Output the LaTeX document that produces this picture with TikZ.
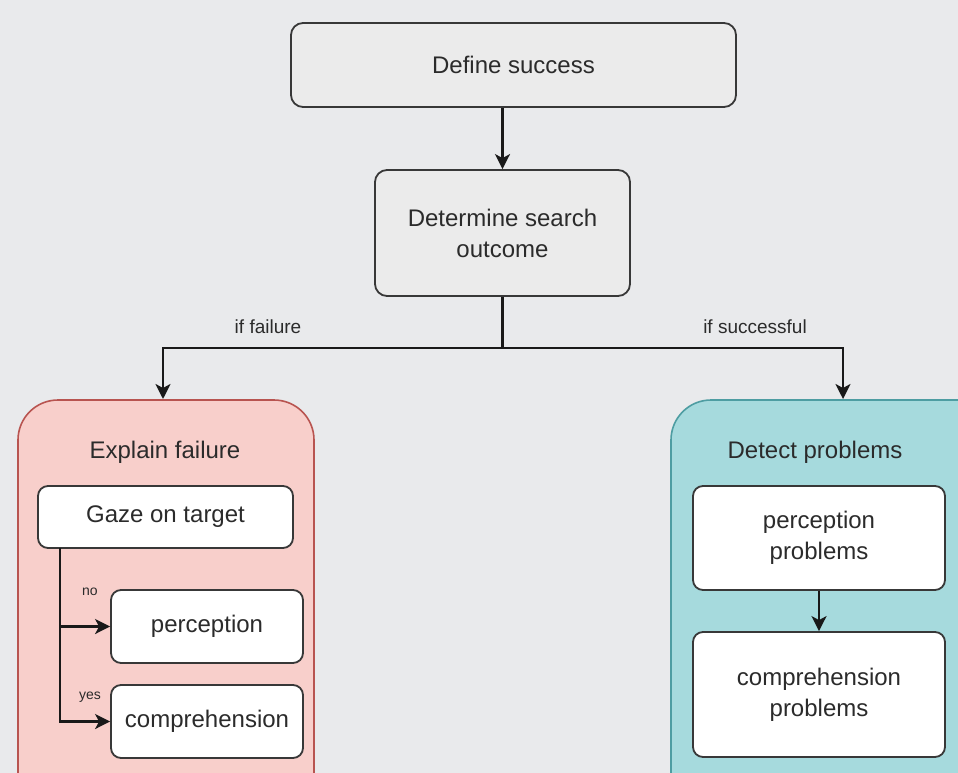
\documentclass[tikz,border=0pt]{standalone}
\usepackage{fontspec}
\setmainfont{Liberation Sans}
\usetikzlibrary{arrows.meta,positioning}
\definecolor{bg}{HTML}{E9EAEC}
\definecolor{boxfill}{HTML}{EBEBEB}
\definecolor{boxline}{HTML}{383838}
\definecolor{txt}{HTML}{2B2B2B}
\definecolor{pinkfill}{HTML}{F8CFCB}
\definecolor{pinkline}{HTML}{B85450}
\definecolor{tealfill}{HTML}{A6DADD}
\definecolor{tealline}{HTML}{4E9DA2}
\tikzset{
  x=1pt,y=-1pt,
  topbox/.style={draw=boxline,line width=1.8pt,fill=boxfill,rounded corners=12pt,text=txt,align=center,font=\fontsize{24}{31}\selectfont},
  whitebox/.style={draw=boxline,line width=1.8pt,fill=white,rounded corners=10pt,text=txt,align=center,font=\fontsize{24}{31}\selectfont},
  conn/.style={line width=2.4pt,black!90,-{Stealth[length=15pt,width=15pt,inset=4pt]}},
  plain/.style={line width=2.4pt,black!90},
  lbl/.style={text=txt,font=\fontsize{19}{22}\selectfont},
  small/.style={text=txt,font=\fontsize{14}{16}\selectfont},
  title/.style={text=txt,font=\fontsize{24}{28}\selectfont}
}
\begin{document}
\begin{tikzpicture}
\useasboundingbox (0,0) rectangle (958,773);
\clip (0,0) rectangle (958,773);
\fill[bg] (0,0) rectangle (958,773);

% containers
\draw[fill=pinkfill,draw=pinkline,line width=1.6pt,rounded corners=40pt] (18,400) rectangle (314,820);
\draw[fill=tealfill,draw=tealline,line width=1.6pt,rounded corners=40pt] (671,400) rectangle (1000,820);

% top boxes
\node[topbox,minimum width=445pt,minimum height=84pt] (def) at (513.5,65) {Define success};
\node[topbox,minimum width=255pt,minimum height=126pt] (det) at (502.5,233) {Determine search\\outcome};

\coordinate (split) at (502.5,348);
\coordinate (lt) at (163,348);
\coordinate (rt) at (843,348);
\coordinate (lend) at (163,399);
\coordinate (rend) at (843,399);

\draw[conn] (def.south -| det.north) -- (det.north);
\draw[plain] (det.south) -- (split);
\draw[conn] (split) -- (lt) -- (lend);
\draw[conn] (split) -- (rt) -- (rend);
\node[lbl] (lf) at (268,327) {if failure};
\node[lbl] (ls) at (755,327) {if successful};

% left container content
\node[title] (expl) at (165,452) {Explain failure};
\node[whitebox,minimum width=255pt,minimum height=62pt] (gaze) at (165.5,517) {Gaze on target};
\node[whitebox,minimum width=192pt,minimum height=73pt] (perc) at (207,626.5) {perception};
\node[whitebox,minimum width=192pt,minimum height=73pt] (comp) at (207,721.5) {comprehension};
\coordinate (g0) at (60,548);
\draw[conn] (g0) |- (perc.west);
\draw[conn] (g0) |- (comp.west);
\node[small] (no) at (90,592) {no};
\node[small] (yes) at (90,697) {yes};

% right container content
\node[title] (detp) at (815,452) {Detect problems};
\node[whitebox,minimum width=252pt,minimum height=104pt] (pp) at (819,538) {perception\\problems};
\node[whitebox,minimum width=252pt,minimum height=125pt] (cp) at (819,694.5) {comprehension\\problems};
\draw[conn] (pp) -- (cp);
\end{tikzpicture}
\end{document}
